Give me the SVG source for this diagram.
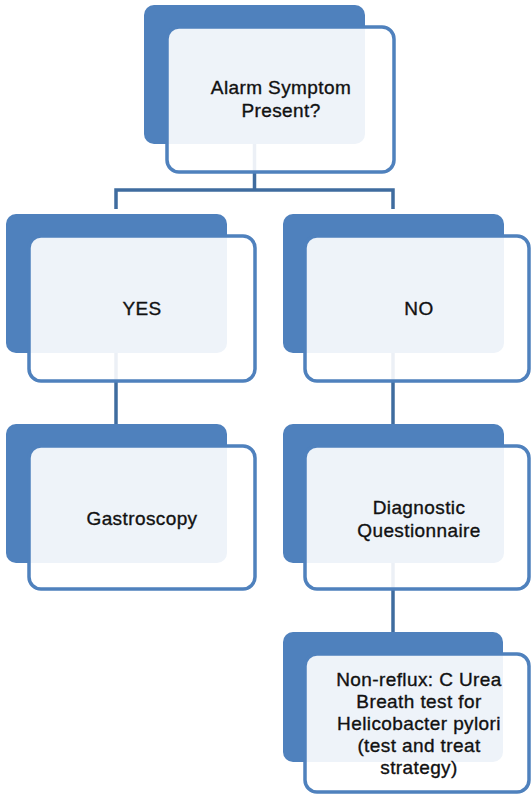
<svg xmlns="http://www.w3.org/2000/svg" width="532" height="796" viewBox="0 0 532 796">
<style>
.back{fill:#4F81BD;}
.front{fill:#FFFFFF;fill-opacity:0.9;stroke:#4F81BD;stroke-width:3.5;}
.lbl{font-family:"Liberation Sans",Arial,sans-serif;font-size:19px;letter-spacing:0.4px;fill:#111111;stroke:#111111;stroke-width:0.35;text-anchor:middle;}
.conn{fill:none;stroke:#3F6C9F;stroke-width:3.5;}
</style>
<rect width="532" height="796" fill="#FFFFFF"/>
<g id="connectors">
<path class="conn" d="M254.5,140 V190 M116,209 V190 H393 V209"/>
<path class="conn" d="M116,350 V424"/>
<path class="conn" d="M393,350 V424"/>
<path class="conn" d="M393,560 V632"/>
</g>
<g id="node-alarm">
<rect class="back" x="144" y="5" width="221" height="139" rx="10"/>
<rect class="front" x="167" y="27" width="227" height="145" rx="12"/>
<text class="lbl" x="281" y="94">Alarm Symptom</text>
<text class="lbl" x="281" y="117">Present?</text>
</g>
<g id="node-yes">
<rect class="back" x="6" y="214" width="221" height="139" rx="10"/>
<rect class="front" x="29" y="236" width="226" height="145" rx="12"/>
<text class="lbl" x="142" y="315">YES</text>
</g>
<g id="node-no">
<rect class="back" x="283" y="214" width="221" height="139" rx="10"/>
<rect class="front" x="305" y="236" width="224" height="145" rx="12"/>
<text class="lbl" x="419" y="315">NO</text>
</g>
<g id="node-gastroscopy">
<rect class="back" x="6" y="424" width="221" height="139" rx="10"/>
<rect class="front" x="29" y="446" width="226" height="143" rx="12"/>
<text class="lbl" x="142" y="525">Gastroscopy</text>
</g>
<g id="node-questionnaire">
<rect class="back" x="283" y="424" width="221" height="139" rx="10"/>
<rect class="front" x="305" y="446" width="224" height="143" rx="12"/>
<text class="lbl" x="419" y="514">Diagnostic</text>
<text class="lbl" x="419" y="537">Questionnaire</text>
</g>
<g id="node-nonreflux">
<rect class="back" x="283" y="632" width="220" height="130" rx="10"/>
<rect class="front" x="305" y="654" width="224" height="138" rx="12"/>
<text class="lbl" x="419" y="686">Non-reflux: C Urea</text>
<text class="lbl" x="419" y="708">Breath test for</text>
<text class="lbl" x="419" y="730">Helicobacter pylori</text>
<text class="lbl" x="419" y="752">(test and treat</text>
<text class="lbl" x="419" y="774">strategy)</text>
</g>
</svg>
